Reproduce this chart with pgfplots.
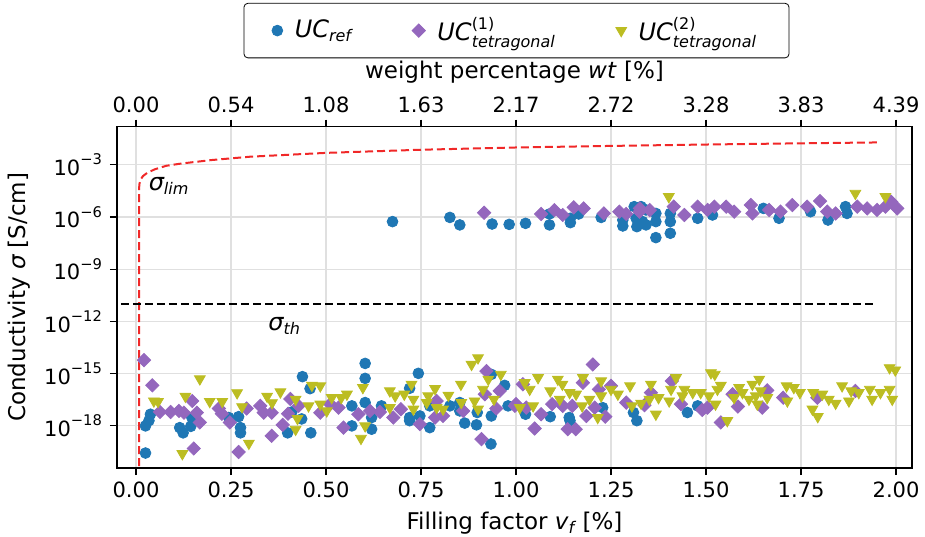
\documentclass[border=0pt]{standalone}
\usepackage{pgfplots}
\pgfplotsset{compat=1.18}
\usepackage{pgfplotstable}
\usepackage{amsmath}
\usepackage{fontspec}
\setmainfont{DejaVu Sans}

\definecolor{cref}{HTML}{1F77B4}
\definecolor{ctetA}{HTML}{9467BD}
\definecolor{ctetB}{HTML}{BCBD22}
\definecolor{climit}{RGB}{240,40,40}

% x = filling factor [%], y = log10(sigma [S/cm])
\pgfplotstableread{
x y
0.025 -19.56
0.025 -18.0
0.034 -17.7
0.038 -17.33
0.115 -18.1
0.124 -18.4
0.144 -18.03
0.147 -17.52
0.244 -17.52
0.27 -17.47
0.275 -18.1
0.275 -18.4
0.399 -18.4
0.438 -15.17
0.458 -15.86
0.46 -18.4
0.41 -17.2
0.436 -17.6
0.603 -14.41
0.603 -15.27
0.603 -16.66
0.568 -16.85
0.568 -18.0
0.62 -17.52
0.62 -18.19
0.646 -16.85
0.72 -15.84
0.72 -17.52
0.72 -17.7
0.743 -14.98
0.747 -17.43
0.773 -18.1
0.773 -16.85
0.826 -16.85
0.852 -16.66
0.852 -17.14
0.865 -17.84
0.896 -17.94
0.898 -17.23
0.935 -15.04
0.935 -17.43
0.934 -19.04
0.97 -15.67
0.979 -16.85
1.025 -17.33
1.09 -17.47
1.14 -17.52
1.142 -17.7
1.228 -16.95
1.309 -17.23
1.318 -17.7
1.451 -17.23
1.478 -16.85
0.675 -6.26
0.826 -6.02
0.852 -6.45
0.937 -6.4
0.982 -6.42
1.025 -6.36
1.088 -5.82
1.088 -6.45
1.143 -6.07
1.143 -6.32
1.165 -5.82
1.224 -6.02
1.281 -6.51
1.281 -6.17
1.311 -5.4
1.316 -6.07
1.318 -6.55
1.329 -5.4
1.342 -5.59
1.333 -6.26
1.342 -6.45
1.368 -5.79
1.368 -6.26
1.368 -7.18
1.406 -5.79
1.406 -6.26
1.406 -6.93
1.478 -6.07
1.517 -5.88
1.651 -5.5
1.692 -6.07
1.775 -5.69
1.821 -6.17
1.867 -5.4
1.871 -5.79
}\ucref

\pgfplotstableread{
x y
0.021 -14.22
0.043 -15.67
0.063 -17.2
0.091 -17.2
0.113 -17.14
0.126 -17.24
0.148 -16.57
0.16 -17.24
0.168 -17.8
0.152 -19.3
0.218 -17.0
0.226 -17.3
0.247 -17.8
0.291 -17.0
0.27 -19.5
0.327 -16.85
0.336 -17.24
0.357 -17.24
0.357 -18.57
0.386 -17.94
0.406 -16.45
0.40 -17.3
0.485 -17.24
0.428 -16.85
0.533 -16.95
0.511 -16.75
0.546 -18.1
0.585 -17.33
0.616 -17.14
0.642 -17.2
0.677 -17.52
0.697 -17.04
0.747 -17.9
0.791 -16.57
0.787 -17.52
0.808 -17.43
0.861 -17.14
0.909 -18.76
0.922 -14.85
0.918 -16.18
0.957 -15.99
0.948 -17.0
0.997 -16.85
1.0 -16.75
1.018 -15.61
1.027 -16.95
1.049 -18.15
1.066 -17.33
1.095 -16.75
1.123 -16.85
1.136 -18.19
1.157 -18.19
1.148 -16.85
1.176 -15.52
1.202 -14.47
1.185 -17.43
1.207 -16.95
1.218 -15.9
1.235 -17.47
1.25 -15.7
1.29 -16.66
1.338 -16.81
1.355 -16.09
1.41 -15.42
1.434 -16.75
1.49 -17.08
1.504 -16.95
1.57 -16.18
1.584 -16.89
1.539 -17.8
1.648 -16.95
1.661 -15.96
1.703 -16.38
1.793 -16.38
1.893 -15.99
0.916 -5.75
1.066 -5.82
1.101 -5.6
1.123 -5.88
1.152 -5.44
1.178 -5.5
1.231 -5.79
1.272 -5.69
1.29 -5.82
1.325 -5.69
1.326 -5.5
1.352 -5.6
1.415 -5.4
1.443 -5.88
1.478 -5.4
1.504 -5.59
1.522 -5.4
1.553 -5.4
1.574 -5.69
1.618 -5.31
1.622 -5.79
1.666 -5.59
1.696 -5.69
1.727 -5.31
1.766 -5.4
1.8 -5.08
1.819 -5.69
1.841 -5.79
1.898 -5.4
1.924 -5.5
1.95 -5.59
1.972 -5.4
1.987 -5.12
2.003 -5.5
}\uctetA

\pgfplotstableread{
x y
0.047 -16.57
0.058 -16.6
0.168 -15.3
0.13 -16.3
0.122 -19.6
0.194 -16.6
0.227 -16.6
0.266 -16.1
0.279 -16.9
0.297 -19.0
0.345 -16.3
0.358 -16.67
0.38 -16.05
0.42 -16.47
0.425 -17.58
0.42 -18.2
0.454 -16.85
0.463 -15.67
0.485 -15.7
0.485 -16.75
0.515 -16.38
0.502 -17.14
0.54 -16.38
0.555 -16.18
0.597 -15.8
0.603 -18.0
0.592 -18.72
0.668 -15.99
0.682 -16.28
0.668 -16.95
0.706 -16.18
0.725 -15.61
0.73 -16.47
0.73 -17.04
0.769 -16.28
0.787 -15.86
0.765 -16.66
0.791 -16.95
0.808 -17.04
0.822 -16.24
0.855 -15.61
0.856 -16.66
0.883 -14.47
0.9 -14.09
0.891 -16.57
0.9 -17.04
0.913 -15.9
0.927 -15.32
0.942 -16.47
0.96 -15.04
1.01 -16.95
1.023 -15.52
1.036 -15.9
1.045 -16.85
1.058 -15.23
1.09 -15.99
1.11 -15.32
1.122 -15.61
1.115 -16.47
1.141 -16.09
1.158 -16.18
1.176 -15.23
1.174 -16.85
1.193 -16.47
1.215 -17.52
1.224 -15.42
1.224 -16.28
1.25 -15.9
1.268 -16.18
1.3 -15.7
1.305 -16.85
1.329 -16.7
1.351 -16.47
1.355 -15.61
1.375 -16.38
1.368 -17.33
1.403 -16.57
1.408 -15.9
1.421 -15.23
1.438 -16.28
1.443 -15.9
1.465 -16.09
1.486 -16.09
1.508 -16.28
1.513 -14.95
1.523 -15.04
1.539 -15.67
1.53 -15.9
1.525 -16.75
1.556 -17.7
1.574 -16.38
1.587 -15.8
1.596 -16.09
1.613 -16.47
1.622 -15.61
1.631 -16.28
1.64 -15.32
1.644 -15.99
1.635 -16.75
1.661 -16.38
1.712 -15.7
1.714 -16.57
1.731 -15.8
1.747 -16.09
1.782 -16.09
1.78 -17.04
1.794 -17.47
1.806 -16.18
1.823 -16.47
1.841 -16.7
1.858 -15.7
1.876 -16.57
1.882 -15.99
1.902 -16.09
1.931 -15.9
1.937 -16.47
1.959 -16.09
1.983 -15.9
1.99 -16.47
1.983 -14.66
1.998 -14.79
1.402 -4.83
1.893 -4.64
1.972 -4.83
}\uctetB

% sigma_lim curve
\pgfplotstableread{
x y
0.008 -21
0.008 -4.4
0.009 -4.1
0.012 -3.85
0.018 -3.65
0.03 -3.45
0.05 -3.25
0.08 -3.05
0.12 -2.92
0.2 -2.72
0.3 -2.53
0.5 -2.31
0.75 -2.13
1.0 -2.0
1.25 -1.91
1.5 -1.83
1.75 -1.76
1.952 -1.71
}\siglim

\pgfplotsset{
  common/.style={
    at={(58.5pt,34pt)}, anchor=south west,
    scale only axis, width=397.5pt, height=170.7pt,
    xmin=-0.05, xmax=2.042, ymin=-20.42, ymax=-0.8,
    xtick={0,0.25,0.5,0.75,1,1.25,1.5,1.75,2},
    tick align=outside, major tick length=3.5pt,
    tick style={black, line width=0.6pt},
    axis line style={line width=0.8pt},
    tick label style={font=\fontsize{10.5}{12}\selectfont},
    label style={font=\fontsize{11.5}{13}\selectfont},
  },
}

\begin{document}
\begin{tikzpicture}
\useasboundingbox (0,0) rectangle (462.5pt,268pt);
\begin{axis}[
    common,
    xtick pos=bottom, ytick pos=left,
    xticklabels={0.00,0.25,0.50,0.75,1.00,1.25,1.50,1.75,2.00},
    ytick={-18,-15,-12,-9,-6,-3},
    yticklabels={$\text{10}^{\text{−18}}$,$\text{10}^{\text{−15}}$,$\text{10}^{\text{−12}}$,$\text{10}^{\text{−9}}$,$\text{10}^{\text{−6}}$,$\text{10}^{\text{−3}}$},
    grid=major, grid style={black!12, line width=0.6pt},
    xlabel={Filling factor $\textit{v}_{\textit{f}}$ [\%]},
    ylabel={Conductivity $\textit{σ}$ [S/cm]},
    legend columns=3,
    legend style={at={(0.5025,1.3624)}, anchor=north, draw=black, rounded corners=2pt,
      font=\fontsize{12}{14}\selectfont, inner xsep=14pt, inner ysep=5pt,
      /tikz/every odd column/.append style={column sep=4pt},
      /tikz/every even column/.append style={column sep=28pt}},
    legend cell align=left,
]
\addplot[only marks, mark=*, mark size=2.7pt, draw=cref, fill=cref] table {\ucref};
\addlegendentry{$\textit{UC}_{\textit{ref}}$}
\addplot[only marks, mark=square*, mark size=2.35pt, mark options={rotate=45}, draw=ctetA, fill=ctetA] table {\uctetA};
\addlegendentry{$\textit{UC}^{\text{(1)}}_{\textit{tetragonal}}$}
\addplot[only marks, mark=triangle*, mark size=3.1pt, mark options={rotate=180}, draw=ctetB, fill=ctetB] table {\uctetB};
\addlegendentry{$\textit{UC}^{\text{(2)}}_{\textit{tetragonal}}$}
\addplot[climit, line width=1pt, dash pattern=on 4pt off 2pt, forget plot] table {\siglim};
\addplot[black, line width=1pt, dash pattern=on 4pt off 2pt, forget plot] coordinates {(-0.04,-11) (1.94,-11)};
\node[anchor=base west, font=\fontsize{12}{14}\selectfont] at (axis cs:0.015,-4.5) {$\textit{σ}_{\textit{lim}}$};
\node[anchor=base west, font=\fontsize{12}{14}\selectfont] at (axis cs:0.33,-12.5) {$\textit{σ}_{\textit{th}}$};
\end{axis}
\begin{axis}[
    common,
    axis x line*=top, axis y line=none,
    xticklabels={0.00,0.54,1.08,1.63,2.17,2.72,3.28,3.83,4.39},
    xlabel={weight percentage \textit{wt} [\%]},
]
\addplot[draw=none] coordinates {(0,-10)};
\end{axis}
\end{tikzpicture}
\end{document}
